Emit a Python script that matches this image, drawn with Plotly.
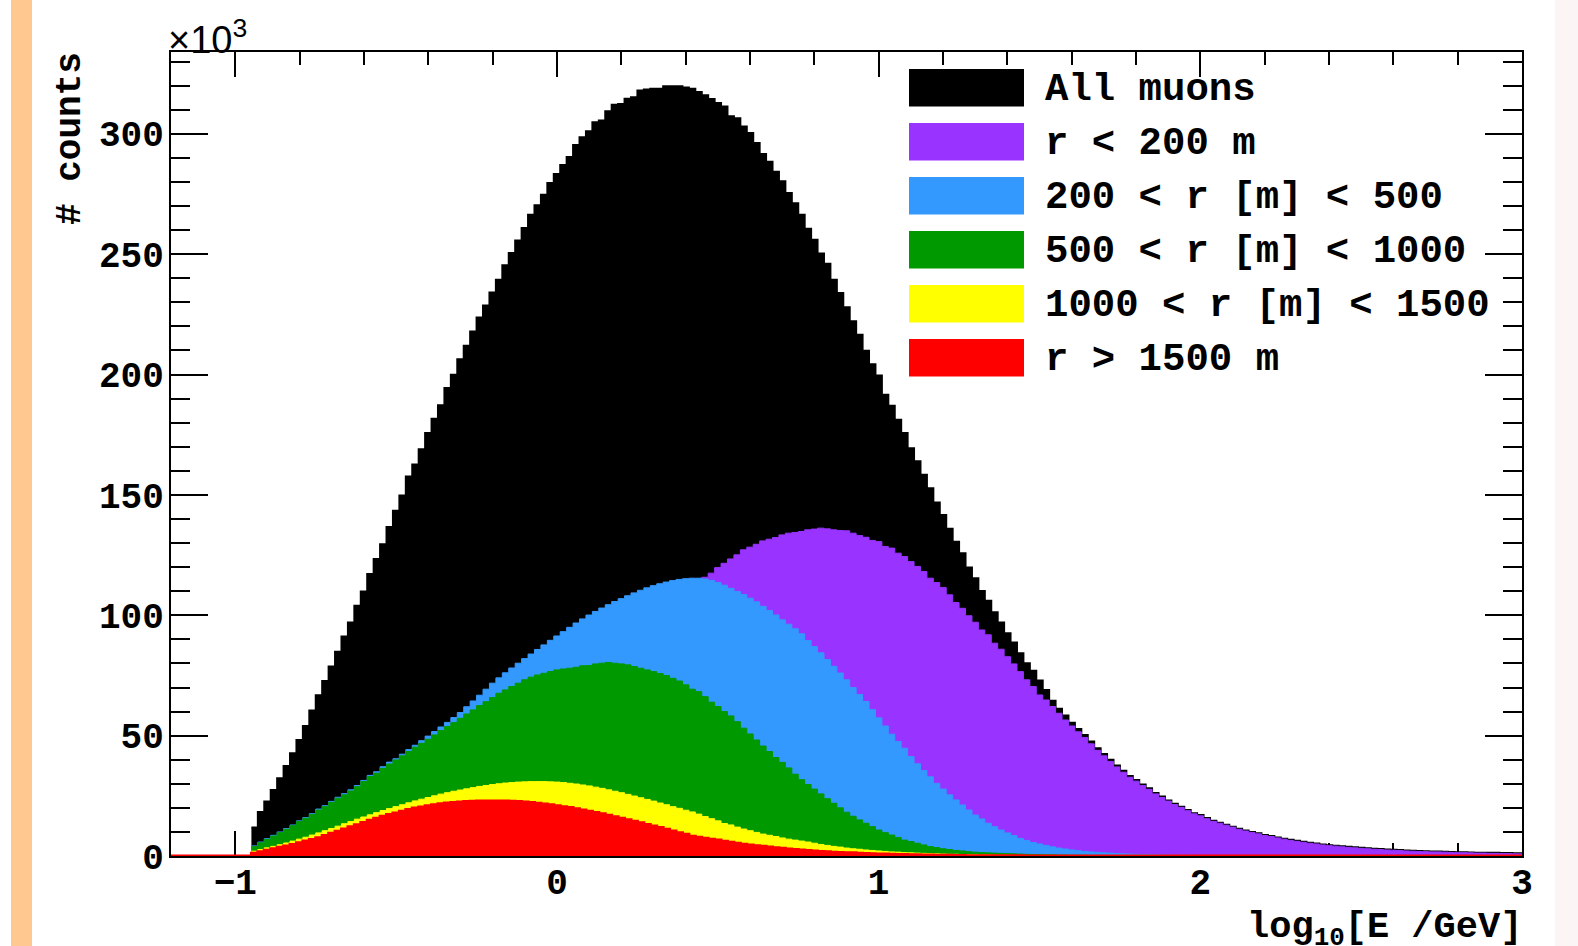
import plotly.graph_objects as go

# ---------------- data (counts in units of 10^3, bins of 0.02 in log10 E) ----------------
BIN_START = -0.95
BIN_WIDTH = 0.02
X_RANGE = [-1.2, 3.0]
Y_RANGE = [0, 334]

all_muons = [
    11.8, 18.3, 22.6, 27.4, 32.3, 37.4, 42.7, 48.2, 54.0, 60.4,
    66.8, 72.7, 78.7, 84.9, 91.2, 97.0, 104.0, 109.9, 117.1, 123.4,
    129.5, 136.7, 143.4, 149.8, 157.7, 162.6, 169.0, 175.7, 181.6, 187.2,
    194.4, 199.9, 206.4, 212.0, 217.9, 223.7, 228.7, 234.1, 239.4, 245.4,
    250.5, 255.7, 260.9, 266.4, 270.3, 274.7, 279.6, 283.3, 287.1, 290.4,
    295.4, 298.6, 301.1, 304.8, 305.5, 309.4, 312.1, 312.4, 314.6, 315.2,
    318.0, 318.4, 318.7, 318.7, 319.8, 319.8, 319.8, 319.3, 318.7, 317.4,
    316.0, 314.5, 312.8, 311.4, 307.3, 306.5, 303.1, 300.4, 296.2, 291.6,
    288.4, 284.3, 280.3, 275.4, 271.2, 266.4, 260.6, 256.0, 250.3, 246.0,
    239.4, 233.9, 228.0, 222.1, 216.5, 209.9, 204.3, 199.6, 191.6, 187.0,
    181.2, 175.7, 169.4, 164.0, 158.4, 152.8, 146.9, 141.7, 135.9, 130.5,
    125.8, 119.8, 115.4, 110.1, 106.0, 101.3, 97.0, 92.5, 88.7, 84.2,
    80.1, 77.0, 72.9, 69.0, 64.5, 61.2, 58.4, 55.4, 52.8, 50.3,
    47.6, 44.8, 42.4, 40.0, 37.6, 35.4, 33.2, 31.6, 29.7, 28.1,
    26.2, 24.7, 23.1, 21.7, 20.5, 19.1, 17.8, 17.0, 15.8, 14.6,
    13.8, 13.0, 12.2, 11.3, 10.6, 10.0, 9.4, 8.7, 8.3, 7.7,
    7.2, 6.7, 6.3, 5.9, 5.5, 5.2, 4.8, 4.5, 4.3, 4.0,
    3.8, 3.6, 3.4, 3.2, 3.0, 2.9, 2.7, 2.6, 2.5, 2.3,
    2.2, 2.1, 2.0, 1.9, 1.9, 1.8, 1.7, 1.6, 1.6, 1.5,
    1.4, 1.4, 1.3, 1.3, 1.2, 1.2, 1.1, 1.1,
]

r_lt_200 = [
    0.3, 0.6, 1.0, 1.5, 2.0, 2.6, 3.3, 4.0, 4.8, 5.6,
    6.5, 7.5, 8.5, 9.6, 10.7, 11.9, 13.1, 14.4, 15.8, 17.2,
    18.7, 20.2, 21.8, 23.4, 25.0, 26.7, 28.4, 30.2, 32.0, 33.8,
    35.4, 36.8, 38.1, 39.4, 40.8, 42.2, 43.5, 44.9, 46.3, 47.8,
    49.3, 51.0, 52.8, 54.8, 56.9, 59.1, 61.4, 63.8, 66.2, 68.7,
    71.2, 73.8, 76.4, 79.0, 81.6, 84.2, 86.8, 89.3, 91.7, 93.9,
    96.0, 98.0, 100.0, 101.9, 103.7, 105.4, 107.3, 109.5, 111.8, 113.9,
    115.8, 117.5, 119.8, 121.6, 123.4, 125.1, 127.2, 128.3, 129.5, 130.9,
    131.6, 132.3, 133.4, 134.1, 134.4, 134.8, 135.5, 135.8, 136.2, 135.9,
    135.5, 135.2, 135.1, 134.1, 133.1, 132.4, 131.1, 130.6, 128.6, 127.9,
    125.8, 124.4, 122.3, 120.3, 118.2, 115.4, 113.6, 111.5, 108.5, 105.3,
    102.9, 99.8, 97.1, 93.9, 91.9, 88.4, 85.9, 82.8, 79.8, 76.6,
    73.2, 70.4, 66.9, 64.8, 62.1, 59.3, 56.5, 54.0, 51.6, 49.2,
    46.6, 43.9, 41.6, 39.3, 37.0, 34.8, 32.7, 31.1, 29.3, 27.7,
    25.8, 24.3, 22.8, 21.4, 20.2, 18.8, 17.5, 16.7, 15.5, 14.4,
    13.6, 12.8, 12.0, 11.1, 10.4, 9.8, 9.2, 8.5, 8.1, 7.5,
    7.0, 6.5, 6.1, 5.7, 5.3, 5.0, 4.6, 4.3, 4.1, 3.8,
    3.6, 3.4, 3.2, 3.0, 2.8, 2.7, 2.5, 2.4, 2.3, 2.1,
    2.0, 1.9, 1.8, 1.7, 1.7, 1.6, 1.5, 1.4, 1.4, 1.3,
    1.2, 1.2, 1.1, 1.1, 1.0, 1.0, 0.9, 0.9,
]

r_200_500 = [
    4.2, 5.8, 7.2, 8.6, 10.0, 11.4, 12.9, 14.6, 16.0, 17.6,
    19.5, 20.9, 22.7, 24.4, 25.9, 27.5, 29.3, 31.4, 33.5, 35.0,
    37.1, 39.0, 40.4, 42.3, 44.2, 46.0, 47.9, 49.8, 51.7, 53.6,
    55.5, 57.5, 59.6, 62.0, 64.4, 66.8, 69.3, 71.8, 74.0, 76.1,
    78.1, 80.1, 82.0, 83.9, 85.8, 87.7, 89.6, 91.4, 93.2, 95.0,
    96.8, 98.5, 100.1, 101.6, 103.0, 104.4, 105.7, 106.9, 108.1, 109.3,
    110.4, 111.4, 112.3, 113.1, 113.8, 114.4, 114.9, 115.2, 115.4, 115.4,
    115.1, 114.5, 113.6, 112.5, 111.2, 109.9, 108.6, 107.1, 105.6, 103.7,
    102.0, 100.1, 98.1, 96.3, 94.4, 92.3, 89.5, 87.0, 84.4, 81.6,
    78.8, 76.0, 73.2, 70.0, 67.1, 64.2, 60.8, 57.4, 54.0, 50.6,
    47.6, 44.8, 41.3, 38.3, 35.5, 32.9, 30.2, 27.8, 25.4, 23.3,
    21.2, 19.1, 17.0, 15.4, 13.6, 12.2, 10.8, 9.6, 8.5, 7.3,
    6.5, 5.6, 5.0, 4.4, 3.8, 3.3, 2.9, 2.5, 2.2, 1.9,
    1.7, 1.5, 1.3, 1.2, 1.0, 0.9, 0.8, 0.7, 0.6, 0.6,
    0.5, 0.4, 0.4, 0.3, 0.3, 0.3, 0.2, 0.2, 0.2, 0.2,
    0.1, 0.1, 0.1, 0.1, 0.1, 0.1, 0.1, 0.1, 0.1, 0.1,
]

r_500_1000 = [
    3.9, 5.5, 6.9, 8.3, 9.7, 11.1, 12.6, 14.3, 15.7, 17.3,
    19.1, 20.5, 22.3, 24.0, 25.4, 27.0, 28.8, 30.9, 33.0, 34.4,
    36.4, 38.2, 39.9, 41.6, 43.4, 45.2, 46.8, 48.5, 50.3, 52.1,
    53.8, 55.4, 57.2, 59.0, 60.7, 62.5, 64.1, 65.8, 67.6, 69.0,
    70.4, 71.8, 73.2, 74.3, 75.2, 75.9, 76.6, 77.3, 77.7, 78.0,
    78.4, 79.0, 79.1, 79.8, 80.1, 80.4, 80.1, 79.8, 79.4, 78.7,
    78.0, 77.3, 76.6, 75.8, 75.0, 73.8, 72.7, 71.1, 69.3, 68.3,
    66.2, 63.9, 62.1, 60.0, 58.2, 55.8, 53.1, 50.7, 48.2, 45.7,
    43.4, 40.9, 38.9, 36.6, 34.0, 31.7, 29.7, 27.8, 25.8, 23.8,
    21.9, 20.0, 18.2, 16.5, 15.0, 13.6, 12.2, 10.8, 9.7, 8.7,
    7.7, 6.6, 6.0, 5.3, 4.6, 3.9, 3.5, 3.0, 2.7, 2.3,
    2.1, 1.8, 1.6, 1.4, 1.3, 1.2, 1.1, 1.0, 0.9, 0.8,
    0.7, 0.6, 0.6, 0.5, 0.5, 0.4, 0.4, 0.3, 0.3, 0.3,
    0.2, 0.2, 0.2, 0.2, 0.2, 0.1, 0.1, 0.1, 0.1, 0.1,
]

r_1000_1500 = [
    2.0, 2.7, 3.4, 4.0, 4.7, 5.4, 6.2, 7.0, 7.8, 8.7,
    9.6, 10.5, 11.4, 12.4, 13.4, 14.3, 15.3, 16.2, 17.1, 18.0,
    18.9, 19.7, 20.5, 21.3, 22.1, 22.9, 23.6, 24.3, 25.0, 25.7,
    26.3, 26.9, 27.4, 27.9, 28.4, 28.9, 29.3, 29.7, 30.0, 30.3,
    30.5, 30.7, 30.8, 30.9, 30.9, 30.9, 30.8, 30.7, 30.5, 30.2,
    29.9, 29.5, 29.1, 28.6, 28.1, 27.5, 26.9, 26.3, 25.6, 24.9,
    24.2, 23.5, 22.8, 22.0, 21.3, 20.5, 19.8, 19.0, 18.3, 17.4,
    16.4, 15.5, 14.6, 13.5, 12.9, 12.0, 11.2, 10.5, 9.8, 9.1,
    8.6, 8.1, 7.5, 7.0, 6.6, 6.2, 5.8, 5.3, 4.8, 4.4,
    4.0, 3.7, 3.3, 3.0, 2.8, 2.5, 2.3, 2.1, 1.9, 1.7,
    1.6, 1.4, 1.3, 1.2, 1.1, 1.0, 0.9, 0.8, 0.7, 0.7,
    0.6, 0.5, 0.5, 0.4, 0.4, 0.3, 0.3, 0.3, 0.2, 0.2,
    0.2, 0.1, 0.1, 0.1, 0.1, 0.1, 0.1, 0.1, 0.1, 0.1,
]

r_gt_1500 = [
    1.1, 1.8, 2.4, 3.0, 3.6, 4.2, 4.8, 5.5, 6.2, 6.9,
    7.6, 8.5, 9.4, 10.3, 11.2, 12.1, 13.0, 13.9, 14.8, 15.7,
    16.5, 17.2, 17.9, 18.6, 19.3, 19.9, 20.4, 20.9, 21.3, 21.7,
    22.0, 22.2, 22.4, 22.6, 22.7, 22.8, 22.9, 22.9, 22.9, 22.8,
    22.7, 22.6, 22.4, 22.2, 21.9, 21.6, 21.3, 20.9, 20.5, 20.1,
    19.6, 19.1, 18.6, 18.1, 17.5, 16.9, 16.3, 15.7, 15.1, 14.4,
    13.8, 13.1, 12.5, 11.8, 11.1, 10.4, 9.7, 9.0, 8.2, 7.8,
    7.4, 7.0, 6.6, 6.1, 5.7, 5.3, 4.9, 4.6, 4.3, 4.0,
    3.7, 3.4, 3.2, 2.9, 2.7, 2.5, 2.3, 2.1, 1.9, 1.8,
    1.6, 1.5, 1.4, 1.3, 1.1, 1.0, 0.9, 0.8, 0.8, 0.7,
    0.6, 0.6, 0.5, 0.5, 0.4, 0.4, 0.3, 0.3, 0.3, 0.2,
    0.2, 0.1, 0.1, 0.1, 0.1, 0.1, 0.1, 0.1, 0.1, 0.1,
]

labels = ["All muons", "r < 200 m", "200 < r [m] < 500",
          "500 < r [m] < 1000", "1000 < r [m] < 1500", "r > 1500 m"]
colors = ["#000000", "#9933FF", "#3399FF", "#009900", "#FFFF00", "#FF0000"]
series = [all_muons, r_lt_200, r_200_500, r_500_1000, r_1000_1500, r_gt_1500]

# ---------------- figure ----------------
W, H = 1578, 946
L, R, T, B = 171, 56, 52, 90
PW, PH = W - L - R, H - T - B


def px_x(p):
    return (p - L) / PW


def px_y(p):
    return (H - B - p) / PH


MONO = "Liberation Mono"

fig = go.Figure()

for i, (name, vals, col) in enumerate(zip(labels, series, colors)):
    edges = [BIN_START + BIN_WIDTH * k for k in range(len(vals) + 1)]
    xs = edges[:] + [edges[-1]]
    ys = list(vals) + [vals[-1], 0]
    lw = 1
    if i == 0:
        lw = 2
    if i == len(series) - 1:
        # red histogram outline runs along zero over the full histogram range
        xs = [X_RANGE[0]] + xs + [X_RANGE[1]]
        ys = [0] + ys + [0]
        lw = 3
    fig.add_trace(go.Scatter(
        x=xs, y=ys, mode="lines", line=dict(shape="hv", color=col, width=lw),
        fill="tozeroy", fillcolor=col, name=name, showlegend=False,
        hoverinfo="skip",
    ))

axis_common = dict(
    showline=True, linecolor="black", linewidth=2, mirror="allticks",
    ticks="inside", tickcolor="black", tickwidth=2,
    showgrid=False, zeroline=False, layer="below traces",
    tickfont=dict(family=MONO, size=36, color="black", weight="bold"),
)

fig.update_xaxes(
    range=X_RANGE, dtick=1, tick0=0, ticklen=25, ticklabelstandoff=-7,
    minor=dict(dtick=0.2, tick0=0, ticklen=13, tickwidth=2, tickcolor="black",
               ticks="inside", showgrid=False),
    **axis_common,
)
fig.update_yaxes(
    range=Y_RANGE, dtick=50, tick0=0, ticklen=37, ticklabelstandoff=-2,
    minor=dict(dtick=10, tick0=0, ticklen=19, tickwidth=2, tickcolor="black",
               ticks="inside", showgrid=False),
    **axis_common,
)

shapes = []
# page decorations: peach strip at left, faint strip at right
shapes.append(dict(type="rect", xref="paper", yref="paper",
                   x0=px_x(11), x1=px_x(32), y0=px_y(H), y1=px_y(0),
                   fillcolor="#FFC890", line=dict(width=0), layer="below"))
shapes.append(dict(type="rect", xref="paper", yref="paper",
                   x0=px_x(1555), x1=px_x(W), y0=px_y(H), y1=px_y(0),
                   fillcolor="#FCF5F5", line=dict(width=0), layer="below"))

annotations = []
# legend drawn manually (ROOT-style big swatches)
for i, (name, col) in enumerate(zip(labels, colors)):
    top = 69 + 54 * i
    shapes.append(dict(type="rect", xref="paper", yref="paper",
                       x0=px_x(909), x1=px_x(1024),
                       y0=px_y(top + 37.5), y1=px_y(top),
                       fillcolor=col, line=dict(width=0), layer="above"))
    annotations.append(dict(
        xref="paper", yref="paper", x=px_x(1043), y=px_y(top + 21),
        xanchor="left", yanchor="middle", showarrow=False, text=name,
        font=dict(family=MONO, size=39, color="black", weight="bold")))

annotations.append(dict(
    xref="paper", yref="paper", x=px_x(70), y=px_y(139),
    xanchor="center", yanchor="middle", showarrow=False, textangle=-90,
    text="# counts", font=dict(family=MONO, size=36, color="black", weight="bold")))

annotations.append(dict(
    xref="paper", yref="paper", x=px_x(1524), y=px_y(929),
    xanchor="right", yanchor="middle", showarrow=False,
    text="log<sub>10</sub>[E /GeV]",
    font=dict(family=MONO, size=37, color="black", weight="bold")))

annotations.append(dict(
    xref="paper", yref="paper", x=px_x(166), y=px_y(37),
    xanchor="left", yanchor="middle", showarrow=False,
    text="×10<sup>3</sup>",
    font=dict(family="Liberation Sans", size=38, color="black")))

fig.update_layout(
    width=W, height=H, autosize=False,
    margin=dict(l=L, r=R, t=T, b=B, pad=0),
    paper_bgcolor="white", plot_bgcolor="white",
    showlegend=False, shapes=shapes, annotations=annotations,
)

fig.write_html("out.html")
